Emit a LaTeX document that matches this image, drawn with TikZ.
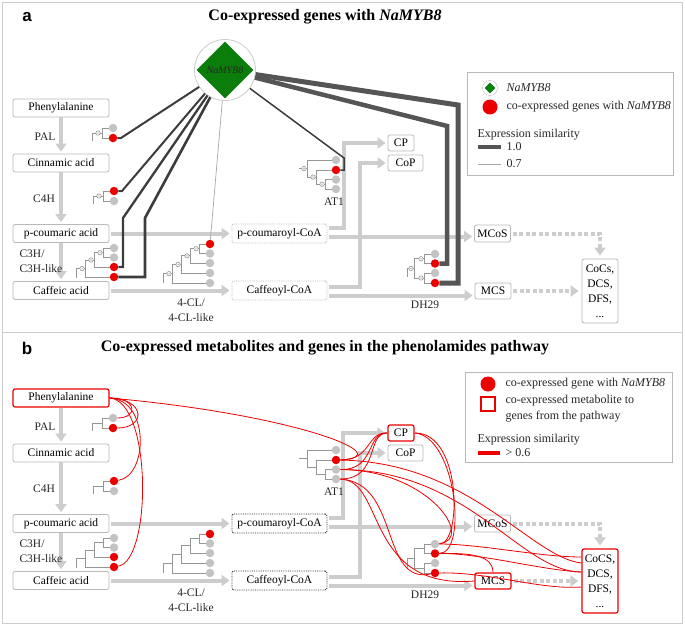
\documentclass[tikz,border=0pt]{standalone}
\usepackage{fontspec}
\setmainfont{Liberation Serif}
\newfontfamily\lsans{Liberation Sans}
\usetikzlibrary{arrows.meta,shapes.geometric}
\definecolor{lg}{RGB}{205,205,205}
\definecolor{bx}{RGB}{185,185,185}
\definecolor{trc}{RGB}{150,150,150}
\definecolor{lf}{RGB}{195,195,195}
\definecolor{dk}{RGB}{60,60,60}
\definecolor{dk2}{RGB}{85,85,85}
\definecolor{myred}{RGB}{235,0,0}
\definecolor{mygreen}{RGB}{10,125,10}
\newif\ifmk
\newcommand{\mkat}[1]{\ifmk\filldraw[draw=trc,fill=white,line width=0.6pt] #1 circle (2.2pt); \fill[trc] #1 circle (0.7pt);\fi}
\newcommand{\pathway}[1]{%
\node[phbox] (ph) at (61,108) {Phenylalanine};
\node[box] (ci) at (61,163) {Cinnamic acid};
\node[box] (pc) at (61,233.5) {p-coumaric acid};
\node[box] (ca) at (61,290.5) {Caffeic acid};
\node[coabox] (pcoa) at (279.5,233.5) {p-coumaroyl-CoA};
\node[coabox] (coa) at (279.5,290.5) {Caffeoyl-CoA};
\node[cpbox, minimum width=26pt] (cp) at (401,143) {CP};
\node[sbox, minimum width=35pt] (cop) at (405.5,163) {CoP};
\node[sbox, minimum width=36pt, minimum height=17pt] (mcos) at (492.5,233.5) {MCoS};
\node[mcsbox, minimum width=36pt] (mcs) at (493,291) {MCS};
\node[cocsbox] (cocs) at (600,291) {#1\\DCS,\\DFS,\\...};
\draw[gar] (ph) -- (ci);
\draw[gar] (ci) -- (pc);
\draw[gar] (pc) -- (ca);
\draw[gar, shorten <=2pt] (pc) -- (pcoa);
\draw[gar, shorten <=2pt] (ca) -- (coa);
\draw[gar, shorten <=2pt] ([yshift=6pt]pcoa.east) -| ([xshift=-44pt]cp.west) -- (cp.west);
\draw[gar, shorten <=2pt] ([yshift=3.5pt]coa.east) -| ([xshift=-28pt]cop.west) -- (cop.west);
\draw[gar, shorten <=2pt] ([yshift=-3pt]pcoa.east) -- ([yshift=-3pt]mcos.west);
\draw[gar, shorten <=2pt] ([yshift=-5pt]coa.east) -- ([yshift=-4.5pt]mcs.west);
\draw[gdash] (mcos.east) -| (cocs.north);
\draw[gdash] (mcs.east) -- (mcs.east -| cocs.west);
% trees
\draw[tree] (109,128) -- (102,128) -- (102,138) -- (109,138) (102,133) -- (92,133) -- (92,141);
\mkat{(98,133)}
\draw[tree] (110,191) -- (103,191) -- (103,201) -- (110,201) (103,196) -- (93,196) -- (93,204);
\mkat{(99,196)}
\draw[tree] (110,248) -- (103,248) -- (103,257.5) -- (110,257.5)
  (103,252.75) -- (94,252.75) -- (94,267) -- (110,267)
  (94,260) -- (85,260) -- (85,277) -- (110,277)
  (85,268.5) -- (76,268.5) -- (76,278);
\mkat{(100,252.75)}\mkat{(91,260)}\mkat{(82,268.5)}
\draw[tree] (206,244) -- (199,244) -- (199,253.5) -- (206,253.5)
  (199,248.75) -- (190,248.75) -- (190,263) -- (206,263)
  (190,255.9) -- (181,255.9) -- (181,273) -- (206,273)
  (181,264.4) -- (172,264.4) -- (172,283) -- (206,283)
  (172,273.7) -- (163,273.7) -- (163,283);
\mkat{(196,248.75)}\mkat{(187,255.9)}\mkat{(178,264.4)}\mkat{(169,273.7)}
\draw[tree] (332,179.5) -- (325,179.5) -- (325,189) -- (332,189)
  (325,184.25) -- (316,184.25) -- (316,170) -- (332,170)
  (316,177.1) -- (307,177.1) -- (307,160) -- (332,160)
  (307,168.6) -- (299,168.6);
\mkat{(322,184.25)}\mkat{(313,177.1)}\mkat{(304,168.6)}
\draw[tree] (431,254) -- (424,254) -- (424,263.5) -- (431,263.5)
  (431,273) -- (424,273) -- (424,283) -- (431,283)
  (424,258.75) -- (414,258.75) -- (414,278) -- (424,278)
  (414,268.4) -- (407,268.4) -- (407,277);
\mkat{(421,258.75)}\mkat{(421,278)}\mkat{(411,268.4)}
% leaves
\node[gl] (pal1) at (113,128) {};
\node[rl] (pal2) at (113,138) {};
\node[rl] (c4h1) at (114,191) {};
\node[gl] (c4h2) at (114,201) {};
\node[gl] (c3h1) at (114,248) {};
\node[gl] (c3h2) at (114,257.5) {};
\node[rl] (c3h3) at (114,267) {};
\node[rl] (c3h4) at (114,277) {};
\node[rl] (cl1) at (210,244) {};
\node[gl] (cl2) at (210,253.5) {};
\node[gl] (cl3) at (210,263) {};
\node[gl] (cl4) at (210,273) {};
\node[gl] (cl5) at (210,283) {};
\node[gl] (at1) at (336,160) {};
\node[rl] (at2) at (336,170) {};
\node[gl] (at3) at (336,179.5) {};
\node[gl] (at4) at (336,189) {};
\node[gl] (dh1) at (435,254) {};
\node[rl] (dh2) at (435,263.5) {};
\node[gl] (dh3) at (435,273) {};
\node[rl] (dh4) at (435,283) {};
% labels
\node[lab] (lpal) at (45,137) {PAL};
\node[lab] (lc4h) at (44,199) {C4H};
\node[lab, align=left, anchor=west] (lc3h) at (16,261) {C3H/\\C3H-like};
\node[lab, align=center] (lcl) at (191,310) {4-CL/\\4-CL-like};
\node[lab] (lat) at (334,202) {AT1};
\node[lab] (ldh) at (425,305) {DH29};
}
\begin{document}
\begin{tikzpicture}[x=1pt,y=-1pt,font=\fontsize{11.5}{13}\selectfont,
  box/.style={draw=bx, line width=0.8pt, rounded corners=2pt, fill=white, inner sep=0pt, minimum height=18pt, minimum width=96pt, text=black},
  sbox/.style={box, minimum height=16pt},
  phbox/.style={box}, coabox/.style={box, minimum width=95pt, minimum height=19pt, densely dotted},
  cpbox/.style={sbox}, mcsbox/.style={sbox},
  cocsbox/.style={box, minimum width=36pt, minimum height=64pt, align=center, font=\fontsize{11.5}{15}\selectfont},
  gar/.style={draw=lg, line width=4pt, -{Triangle[width=11pt,length=8pt]}, shorten >=2pt},
  gdash/.style={draw=lg, line width=4pt, dash pattern=on 4pt off 2.5pt, -{Triangle[width=11pt,length=8pt]}, shorten >=3pt, shorten <=2pt},
  tree/.style={draw=trc, line width=1pt},
  gl/.style={circle, fill=lf, inner sep=0pt, minimum size=8.5pt},
  rl/.style={gl, fill=myred},
  lab/.style={text=black!85, font=\fontsize{11.5}{14.5}\selectfont},
  con/.style={draw=dk},
  con2/.style={draw=dk2},
  rc/.style={draw=myred, line width=0.8pt},
  ttl/.style={font=\fontsize{16}{18}\selectfont\bfseries},
  legt/.style={anchor=west, font=\fontsize{12}{16}\selectfont, text=black!85}
]
\useasboundingbox (0,0) rectangle (685,626);
\draw[draw=lg, line width=1pt] (2.5,2.5) rectangle (682.5,623.5);
\draw[draw=lg, line width=1pt] (2.5,332) -- (682.5,332);

% ---------- panel a ----------
\begin{scope}
\mktrue
\pathway{CoCs,}
\end{scope}
\node[font=\lsans\bfseries\fontsize{17}{19}\selectfont] (la) at (27,17) {a};
\node[ttl] (ta) at (325,17) {Co-expressed genes with \textit{NaMYB8}};
\node[circle, draw=lg, fill=white, line width=0.8pt, minimum size=61pt] (myb) at (225,70) {};
\draw[con, line width=2pt] (myb) -- (121,138) -- (pal2);
\draw[con, line width=2pt] (myb) -- (122,191) -- (c4h1);
\draw[con, line width=2.3pt] (myb) -- (123,218) -- (123,267) -- (c3h3);
\draw[con, line width=2.6pt] (myb) -- (145,218) -- (145,277) -- (c3h4);
\draw[draw=black!35, line width=0.7pt] (myb) -- (cl1);
\draw[con, line width=1.5pt] (myb) -- (344,158) -- (344,170) -- (at2);
\draw[con2, line width=4.5pt] (myb) -- (447,126) -- (447,263.5) -- (dh2);
\draw[con2, line width=5pt] (myb) -- (458,105) -- (458,283) -- (dh4);
\node[diamond, fill=mygreen, inner sep=0pt, minimum size=57pt] (mybd) at (myb) {};
\node[text=black!85, font=\fontsize{10}{12}\selectfont\itshape, inner sep=0pt] (mybt) at (myb) {NaMYB8};
% legend a
\node[draw=bx, line width=0.8pt, minimum width=206pt, minimum height=103pt] (lega) at (570,123.5) {};
\node[circle, draw=bx, fill=white, minimum size=15pt, inner sep=0pt] (lgc) at (490,88) {};
\node[diamond, fill=mygreen, minimum size=11pt, inner sep=0pt] (lgd) at (490,88) {};
\node[legt] (lgt1) at (503,88) {\itshape NaMYB8};
\node[circle, fill=myred, minimum size=15pt, inner sep=0pt] (lgr) at (490,107) {};
\node[legt] (lgt2) at (503,107) {co-expressed genes with \textit{NaMYB8}};
\node[legt] (lgt3) at (474,135) {Expression similarity};
\coordinate (l1a) at (478,147); \coordinate (l1b) at (501,147);
\draw[con2, line width=4.5pt] (l1a) -- (l1b);
\node[legt] (lgt4) at (503,147) {1.0};
\coordinate (l2a) at (478,164); \coordinate (l2b) at (501,164);
\draw[draw=black!35, line width=0.7pt] (l2a) -- (l2b);
\node[legt] (lgt5) at (503,164) {0.7};

% ---------- panel b ----------
\begin{scope}[shift={(0,290)}, name prefix=b,
  phbox/.style={box, draw=myred, line width=1.2pt},
  coabox/.style={box, minimum width=95pt, minimum height=19pt, draw=black!85, densely dotted, line width=0.9pt},
  cpbox/.style={sbox, draw=myred, line width=1.2pt},
  mcsbox/.style={sbox, draw=myred, line width=1.2pt},
  cocsbox/.style={box, draw=myred, line width=1.2pt, minimum width=36pt, minimum height=64pt, align=center, font=\fontsize{11.5}{15}\selectfont}]
\mkfalse
\pathway{CoCS,}
\end{scope}
\node[font=\lsans\bfseries\fontsize{17}{19}\selectfont] (lb) at (27,348) {b};
\node[ttl] (tb) at (325,348) {Co-expressed metabolites and genes in the phenolamides pathway};
% red curves
\draw[rc] (bph.east) .. controls (138,398) and (138,418) .. (bpal1);
\draw[rc] (bph.east) .. controls (146,399) and (146,428) .. (bpal2);
\draw[rc] (bph.east) .. controls (150,400) and (148,476) .. (bc4h1);
\draw[rc] (bph.east) .. controls (152,401) and (152,560) .. (bc3h4);
\draw[rc] (bph.east) .. controls (300,415) and (400,457) .. (bat2);
\draw[rc] (bcp.west) .. controls (366,432) and (372,460) .. (bat2);
\draw[rc] (bcp.west) .. controls (366,432) and (376,470) .. (bat3);
\draw[rc] (bcp.west) .. controls (366,432) and (380,479) .. (bat4);
\draw[rc] (bcp.east) .. controls (462,432) and (462,544) .. (bdh1);
\draw[rc] (bcp.east) .. controls (456,436) and (468,553) .. (bdh2);
\draw[rc] (bat2) .. controls (470,462) and (530,557) .. ([yshift=18pt]bcocs.west);
\draw[rc] (bat3) .. controls (470,470) and (520,572) .. ([yshift=9pt]bcocs.west);
\draw[rc] (bat3) .. controls (430,470) and (475,540) .. (bdh1);
\draw[rc] (bat4) .. controls (385,480) and (365,590) .. (bmcs.west);
\draw[rc] (bat4) .. controls (400,482) and (380,585) .. (bdh4);
\draw[rc] (bdh1) .. controls (480,544) and (540,557) .. ([yshift=24pt]bcocs.west);
\draw[rc] (bdh2) .. controls (480,553) and (540,570) .. ([yshift=9pt]bcocs.west);
\draw[rc] (bdh4) .. controls (490,572) and (540,590) .. ([yshift=-6pt]bcocs.west);
\draw[rc] (bdh2) .. controls (470,553) and (493,555) .. (bmcs.north);
% legend b
\node[draw=bx, line width=0.8pt, minimum width=207pt, minimum height=90pt] (legb) at (568.5,417) {};
\node[circle, fill=myred, minimum size=15pt, inner sep=0pt] (lgbr) at (488,384) {};
\node[rectangle, draw, color=myred, line width=1.2pt, fill=white, minimum width=14pt, minimum height=14pt, inner sep=0pt] (lgbs) at (488,404) {};
\node[legt] (lgbt1) at (502,384) {co-expressed gene with \textit{NaMYB8}};
\node[legt, align=left] (lgbt2) at (502,408.5) {co-expressed metabolite to\\genes from the pathway};
\node[legt] (lgbt3) at (474,440) {Expression similarity};
\coordinate (l3a) at (478,453); \coordinate (l3b) at (500,453);
\draw[draw=myred, line width=3.5pt] (l3a) -- (l3b);
\node[legt] (lgbt4) at (502,453) {> 0.6};
\end{tikzpicture}
\end{document}
